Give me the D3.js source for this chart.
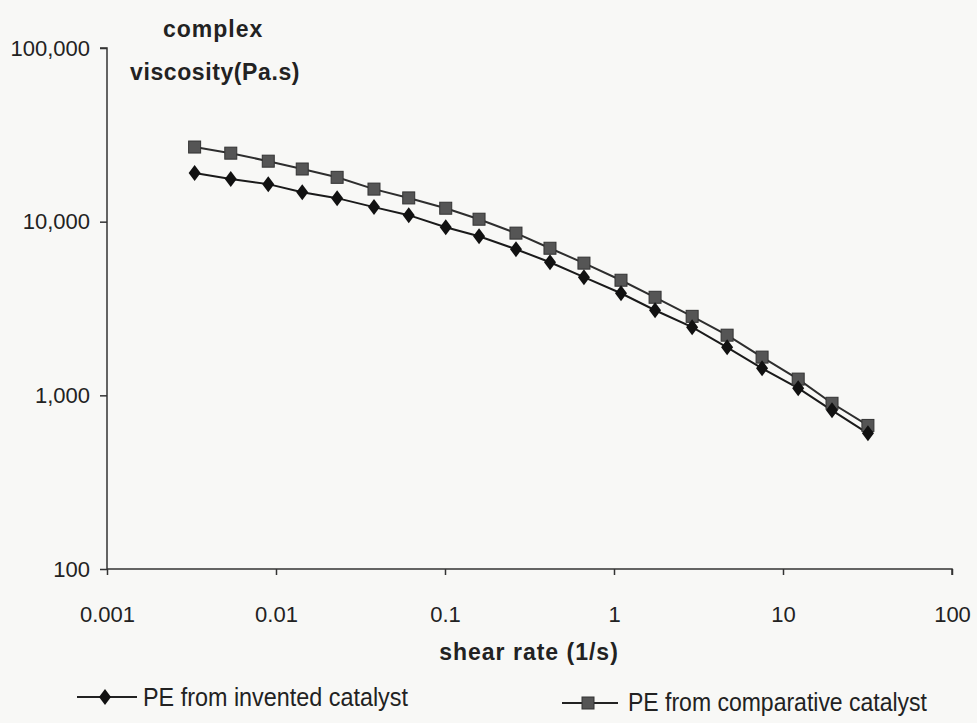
<!DOCTYPE html>
<html>
<head>
<meta charset="utf-8">
<script src="https://cdn.jsdelivr.net/npm/d3@7"></script>
<style>
    body { margin: 0; background: #f8f8f6; }
    svg { display: block; }
    .axis path, .axis line { stroke: #333; stroke-width: 1.5; }
    .axis text { font-family: "Liberation Sans", Arial, sans-serif; font-size: 22px; fill: #222; }
    .title { font-family: "Liberation Sans", Arial, sans-serif; font-weight: bold; font-size: 23px; fill: #222; }
    .legend text { font-family: "Liberation Sans", Arial, sans-serif; font-size: 26px; fill: #222; }
</style>
</head>
<body>
<div id="chart"></div>
<script>
// shear rate (1/s)
const shearRate = [0.0033, 0.0054, 0.009, 0.0143, 0.023, 0.038, 0.061, 0.101, 0.159, 0.263,
    0.418, 0.664, 1.10, 1.75, 2.90, 4.67, 7.52, 12.3, 19.5, 31.8];
// complex viscosity (Pa.s)
const inventedVisc = [19050, 17600, 16450, 14790, 13660, 12130, 10900, 9290, 8240, 6940,
    5840, 4790, 3870, 3090, 2470, 1890, 1430, 1100, 820, 604];
const comparativeVisc = [26900, 24800, 22300, 20100, 18000, 15400, 13700, 11950, 10330, 8590,
    7030, 5770, 4600, 3670, 2850, 2220, 1660, 1240, 900, 671];

const xTicks = [0.001, 0.01, 0.1, 1, 10, 100];
const yTicks = [100, 1000, 10000, 100000];
const legendLabels = ["PE from invented catalyst", "PE from comparative catalyst"];

const width = 977;
const height = 723;

const svg = d3.select("#chart").append("svg")
    .attr("width", width)
    .attr("height", height);

const x = d3.scaleLog().domain([0.001, 100]).range([107, 952]);
const y = d3.scaleLog().domain([100, 100000]).range([569, 48]);

svg.append("g")
    .attr("class", "axis")
    .attr("transform", "translate(0,569)")
    .call(d3.axisBottom(x).tickValues(xTicks).tickSize(6).tickPadding(31)
        .tickFormat(d => d < 1 ? String(+d.toFixed(3)) : String(d)))
    .call(g => g.select(".domain").attr("d", `M${x(0.001)},0H${x(100)}V6`));

svg.append("g")
    .attr("class", "axis")
    .attr("transform", "translate(107,0)")
    .call(d3.axisLeft(y).tickValues(yTicks).tickSize(7).tickPadding(10)
        .tickFormat(d3.format(",")))
    .call(g => g.select(".domain").attr("d", `M-7,${y(100000)}H0V${y(100)}`));

// y title
svg.append("text").attr("class", "title")
    .attr("x", 163).attr("y", 37)
    .attr("letter-spacing", 1)
    .text("complex");
svg.append("text").attr("class", "title")
    .attr("x", 130).attr("y", 80)
    .attr("letter-spacing", 0.6)
    .text("viscosity(Pa.s)");

// x title
svg.append("text").attr("class", "title")
    .attr("x", 529).attr("y", 660)
    .attr("text-anchor", "middle")
    .attr("letter-spacing", 1)
    .text("shear rate (1/s)");

const line = d3.line()
    .x(d => x(d[0]))
    .y(d => y(d[1]));

const invented = shearRate.map((s, i) => [s, inventedVisc[i]]);
const comparative = shearRate.map((s, i) => [s, comparativeVisc[i]]);

const diamond = "M0,-8L6,0L0,8L-6,0Z";

svg.append("path")
    .datum(comparative)
    .attr("fill", "none")
    .attr("stroke", "#2e2e2e")
    .attr("stroke-width", 2)
    .attr("d", line);

svg.append("path")
    .datum(invented)
    .attr("fill", "none")
    .attr("stroke", "#1a1a1a")
    .attr("stroke-width", 2)
    .attr("d", line);

svg.selectAll(".sq")
    .data(comparative)
    .enter().append("rect")
    .attr("class", "sq")
    .attr("x", d => x(d[0]) - 6)
    .attr("y", d => y(d[1]) - 6)
    .attr("width", 12)
    .attr("height", 12)
    .attr("fill", "#555")
    .attr("stroke", "#333")
    .attr("stroke-width", 1);

svg.selectAll(".dm")
    .data(invented)
    .enter().append("path")
    .attr("class", "dm")
    .attr("transform", d => `translate(${x(d[0])},${y(d[1])})`)
    .attr("d", diamond)
    .attr("fill", "#111");

// legend (condensed text, like Arial Narrow)
const legend = svg.append("g").attr("class", "legend");

const leg1 = legend.append("g").attr("transform", "translate(77,697)");
leg1.append("line").attr("x1", 0).attr("x2", 60).attr("stroke", "#222").attr("stroke-width", 2);
leg1.append("path").attr("transform", "translate(28,0)").attr("d", diamond).attr("fill", "#111");
leg1.append("text").attr("x", 66).attr("y", 9)
    .attr("textLength", 265).attr("lengthAdjust", "spacingAndGlyphs")
    .text(legendLabels[0]);

const leg2 = legend.append("g").attr("transform", "translate(562,703)");
leg2.append("line").attr("x1", 0).attr("x2", 56).attr("stroke", "#222").attr("stroke-width", 2);
leg2.append("rect").attr("x", 20).attr("y", -6).attr("width", 12).attr("height", 12)
    .attr("fill", "#555").attr("stroke", "#333");
leg2.append("text").attr("x", 66).attr("y", 8)
    .attr("textLength", 299).attr("lengthAdjust", "spacingAndGlyphs")
    .text(legendLabels[1]);
</script>
</body>
</html>
